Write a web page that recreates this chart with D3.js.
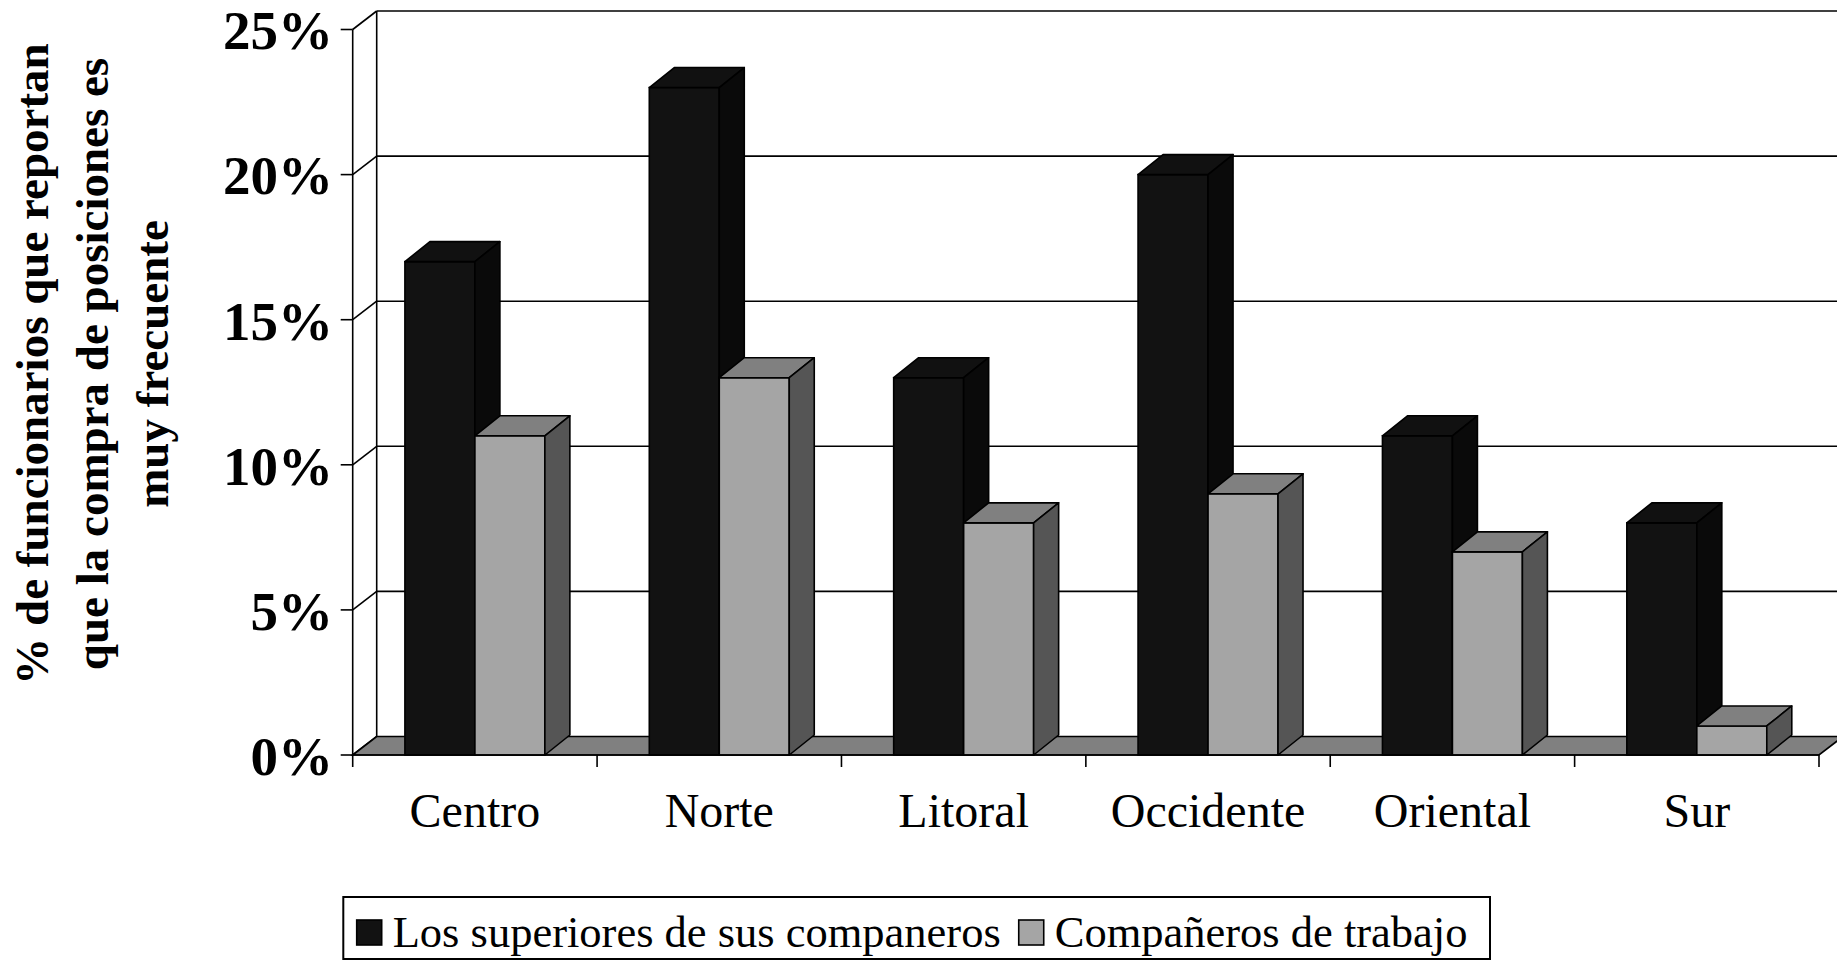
<!DOCTYPE html>
<html>
<head>
<meta charset="utf-8">
<script src="https://cdn.jsdelivr.net/npm/d3@7"></script>
<style>
  html, body { margin: 0; padding: 0; background: #fff; }
  svg { display: block; }
  text { font-family: "Liberation Serif", "Times New Roman", serif; fill: #000; }
</style>
</head>
<body>
<svg id="chart" width="1837" height="964"></svg>
<script>
// ---- data ----
const categories = ["Centro", "Norte", "Litoral", "Occidente", "Oriental", "Sur"];
const seriesNames = ["Los superiores de sus companeros", "Compañeros de trabajo"];
const superiores = [17, 23, 13, 20, 11, 8];
const companeros = [11, 13, 8, 9, 7, 1];
const yTicks = [0, 5, 10, 15, 20, 25];
const yTickLabels = ["0%", "5%", "10%", "15%", "20%", "25%"];
const yTitleLines = ["% de funcionarios que reportan", "que la compra de posiciones es", "muy frecuente"];

// ---- styles ----
const faceColors = [
  { front: "#121212", top: "#111111", side: "#0a0a0a" },
  { front: "#a5a5a5", top: "#808080", side: "#555555" }
];
const floorColor = "#808080";

const svg = d3.select("#chart");

// ---- geometry ----
const x0 = 352.7, x1 = 1819;
const yBase = 755, yTop = 29.5;
const wallDx = 24, wallDy = 18.5;
const barDx = 25, barDy = 20;

const y = d3.scaleLinear().domain([0, 25]).range([yBase, yTop]);
const x = d3.scaleBand().domain(categories).range([x0, x1]).paddingInner(0).paddingOuter(0);
const xs = d3.scaleBand().domain([0, 1]).range([0, x.bandwidth()]).paddingInner(0).paddingOuter(0.746);

const series = [superiores, companeros];

// ---- back wall gridlines ----
const g = svg.append("g");
const sw = 1.6;
yTicks.forEach(v => {
  const yf = y(v), yb = yf - wallDy;
  g.append("line").attr("x1", x0).attr("y1", yf).attr("x2", x0 + wallDx).attr("y2", yb)
    .attr("stroke", "#000").attr("stroke-width", sw);
  if (v > 0) {
    g.append("line").attr("x1", x0 + wallDx).attr("y1", yb).attr("x2", x1 + wallDx + 30).attr("y2", yb)
      .attr("stroke", "#000").attr("stroke-width", sw);
  }
});
g.append("line").attr("x1", x0 + wallDx).attr("y1", y(25) - wallDy).attr("x2", x0 + wallDx).attr("y2", y(0) - wallDy)
  .attr("stroke", "#000").attr("stroke-width", sw);

// ---- floor ----
g.append("polygon")
  .attr("points", [[x0, y(0)], [x1, y(0)], [x1 + wallDx, y(0) - wallDy], [x0 + wallDx, y(0) - wallDy]].map(p => p.join(",")).join(" "))
  .attr("fill", floorColor).attr("stroke", "#000").attr("stroke-width", sw);

// ---- bars ----
const bars = svg.append("g");
categories.forEach((c, i) => {
  series.forEach((s, j) => {
    const v = s[i];
    const bx = x(c) + xs(j), bw = xs.bandwidth();
    const yt = y(v), yb = y(0);
    const col = faceColors[j];
    bars.append("rect").attr("x", bx).attr("y", yt).attr("width", bw).attr("height", yb - yt)
      .attr("fill", col.front).attr("stroke", "#000").attr("stroke-width", sw);
    bars.append("polygon")
      .attr("points", [[bx, yt], [bx + bw, yt], [bx + bw + barDx, yt - barDy], [bx + barDx, yt - barDy]].map(p => p.join(",")).join(" "))
      .attr("fill", col.top).attr("stroke", "#000").attr("stroke-width", sw).attr("stroke-linejoin", "round");
    bars.append("polygon")
      .attr("points", [[bx + bw, yt], [bx + bw + barDx, yt - barDy], [bx + bw + barDx, yb - barDy], [bx + bw, yb]].map(p => p.join(",")).join(" "))
      .attr("fill", col.side).attr("stroke", "#000").attr("stroke-width", sw).attr("stroke-linejoin", "round");
  });
});

// ---- front axes ----
const ax = svg.append("g");
ax.append("line").attr("x1", x0).attr("y1", y(25)).attr("x2", x0).attr("y2", y(0))
  .attr("stroke", "#000").attr("stroke-width", sw);
yTicks.forEach((v, k) => {
  ax.append("line").attr("x1", x0 - 12).attr("y1", y(v)).attr("x2", x0).attr("y2", y(v))
    .attr("stroke", "#000").attr("stroke-width", sw);
  ax.append("text").attr("x", 333).attr("y", y(v)).attr("dy", "0.36em")
    .attr("text-anchor", "end").attr("font-weight", "bold").attr("font-size", 55)
    .text(yTickLabels[k]);
});
ax.append("line").attr("x1", x0).attr("y1", y(0)).attr("x2", x1).attr("y2", y(0))
  .attr("stroke", "#000").attr("stroke-width", sw);
const bounds = categories.map(c => x(c)).concat([x1]);
bounds.forEach(bx => {
  ax.append("line").attr("x1", bx).attr("y1", y(0)).attr("x2", bx).attr("y2", y(0) + 12)
    .attr("stroke", "#000").attr("stroke-width", sw);
});
categories.forEach(c => {
  ax.append("text").attr("x", x(c) + x.bandwidth() / 2).attr("y", 826.7)
    .attr("text-anchor", "middle").attr("font-size", 48).text(c);
});

// ---- y title ----
const baselines = [48, 107.5, 168];
yTitleLines.forEach((t, k) => {
  svg.append("text")
    .attr("transform", `translate(${baselines[k]},364) rotate(-90)`)
    .attr("text-anchor", "middle").attr("font-weight", "bold").attr("font-size", 47)
    .text(t);
});

// ---- legend ----
const lg = svg.append("g");
lg.append("rect").attr("x", 343.3).attr("y", 897).attr("width", 1490 - 343.3).attr("height", 62)
  .attr("fill", "#fff").attr("stroke", "#000").attr("stroke-width", 2);
let lx = 356.7;
seriesNames.forEach((name, j) => {
  lg.append("rect").attr("x", lx).attr("y", 920).attr("width", 25).attr("height", 25)
    .attr("fill", faceColors[j].front).attr("stroke", "#000").attr("stroke-width", 1.6);
  const t = lg.append("text").attr("x", lx + 36).attr("y", 946.7).attr("font-size", 44.5).text(name);
  const w = t.node().getComputedTextLength();
  lx = lx + 36 + w + 18;
});
</script>
</body>
</html>
